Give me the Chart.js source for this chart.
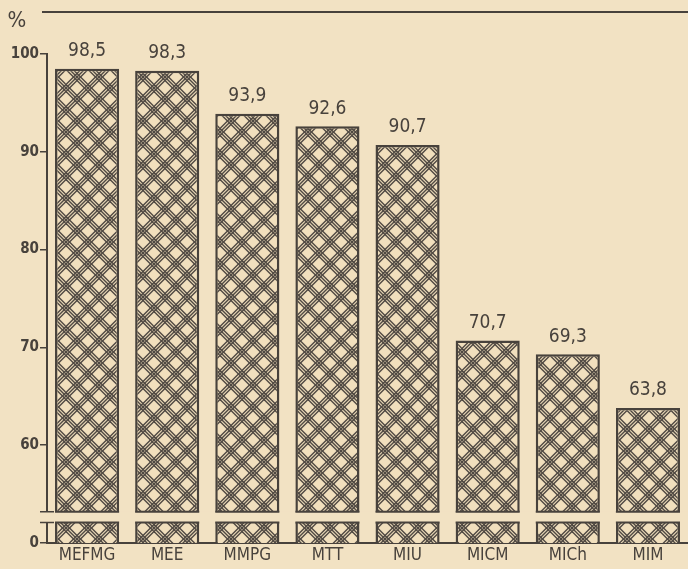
<!DOCTYPE html>
<html>
<head>
<meta charset="utf-8">
<script src="https://cdn.jsdelivr.net/npm/chart.js@4.4.0/dist/chart.umd.min.js"></script>
<style>
  html, body { margin: 0; padding: 0; background: #f2e2c3; }
  #wrap { width: 688px; height: 569px; }
</style>
</head>
<body>
<div id="wrap"><canvas id="bars"></canvas></div>
<script>
// data
const labels = ['MEFMG', 'MEE', 'MMPG', 'MTT', 'MIU', 'MICM', 'MICh', 'MIM'];
const values = [98.5, 98.3, 93.9, 92.6, 90.7, 70.7, 69.3, 63.8];
// axis starts at 0 but is broken, so the bottom of the scale stands for 0
const tickValues = [50, 60, 70, 80, 90, 100];
const tickLabels = ['0', '60', '70', '80', '90', '100'];
const breakRange = [52.1, 53.2];

const paper = '#f2e2c3';
const ink = '#48423c';

function hatch() {
  const s = 22;
  const c = document.createElement('canvas');
  c.width = s; c.height = s;
  const g = c.getContext('2d');
  g.fillStyle = '#f1dfbd';
  g.fillRect(0, 0, s, s);
  g.strokeStyle = '#4f4842';
  g.lineWidth = 1.4;
  [-s, 0, s].forEach(base => {
    [-3.5, 0, 3.5].forEach(d => {
      const k = base + d;
      g.beginPath(); g.moveTo(-2, -2 + k); g.lineTo(s + 2, s + 2 + k); g.stroke();
      g.beginPath(); g.moveTo(-2, s + 2 + k); g.lineTo(s + 2, -2 + k); g.stroke();
    });
  });
  return g.createPattern(c, 'repeat');
}

const extras = {
  id: 'extras',
  afterDatasetsDraw(chart) {
    const { ctx, chartArea, scales } = chart;
    const y = scales.y;
    const meta = chart.getDatasetMeta(0);
    const yTop = y.getPixelForValue(breakRange[1]);
    const yBot = y.getPixelForValue(breakRange[0]);
    ctx.save();
    // gap of the broken axis
    ctx.fillStyle = paper;
    ctx.fillRect(chartArea.left - 12, yTop, chartArea.right - chartArea.left + 14, yBot - yTop);
    ctx.strokeStyle = ink;
    ctx.lineWidth = 2;
    meta.data.forEach(bar => {
      const w = bar.width;
      ctx.beginPath();
      ctx.moveTo(bar.x - w / 2, yTop); ctx.lineTo(bar.x + w / 2, yTop);
      ctx.moveTo(bar.x - w / 2, yBot); ctx.lineTo(bar.x + w / 2, yBot);
      ctx.stroke();
    });
    ctx.lineWidth = 1.5;
    ctx.beginPath();
    ctx.moveTo(chartArea.left - 7, yTop); ctx.lineTo(chartArea.left + 7, yTop);
    ctx.moveTo(chartArea.left - 7, yBot); ctx.lineTo(chartArea.left + 7, yBot);
    ctx.stroke();

    // value labels
    ctx.fillStyle = ink;
    ctx.font = '19px "DejaVu Sans Condensed"';
    ctx.textAlign = 'center';
    ctx.textBaseline = 'bottom';
    meta.data.forEach((bar, i) => {
      ctx.fillText(String(values[i]).replace('.', ','), bar.x, bar.y - 8);
    });

    // unit and top rule
    ctx.font = '22px "DejaVu Sans Condensed"';
    ctx.fillText('%', 17, 32);
    ctx.lineWidth = 2;
    ctx.beginPath();
    ctx.moveTo(42, 12); ctx.lineTo(688, 12);
    ctx.stroke();
    ctx.restore();
  }
};

new Chart(document.getElementById('bars'), {
  type: 'bar',
  data: {
    labels: labels,
    datasets: [{
      data: values,
      backgroundColor: hatch(),
      borderColor: ink,
      borderWidth: 2.5,
      borderSkipped: 'bottom',
      barPercentage: 0.8,
      categoryPercentage: 1.0
    }]
  },
  options: {
    responsive: true,
    maintainAspectRatio: false,
    animation: false,
    layout: { padding: { top: 54, right: 0, left: 0, bottom: 0 } },
    plugins: { legend: { display: false }, tooltip: { enabled: false } },
    scales: {
      x: {
        afterFit(scale) { scale.height = 26; },
        grid: { display: false, drawTicks: false },
        border: { color: ink, width: 2 },
        ticks: {
          color: ink,
          padding: 2,
          font: { family: 'DejaVu Sans Condensed', size: 17 }
        }
      },
      y: {
        min: 50,
        max: 100,
        afterFit(scale) { scale.width = 47; },
        afterBuildTicks(scale) { scale.ticks = tickValues.map(v => ({ value: v })); },
        grid: { drawOnChartArea: false, color: ink, tickLength: 7, lineWidth: 1.5 },
        border: { color: ink, width: 2 },
        ticks: {
          color: ink,
          padding: 1,
          font: { family: 'DejaVu Sans Condensed', size: 15, weight: 'bold' },
          callback: (v) => tickLabels[tickValues.indexOf(v)]
        }
      }
    }
  },
  plugins: [extras]
});
</script>
</body>
</html>
